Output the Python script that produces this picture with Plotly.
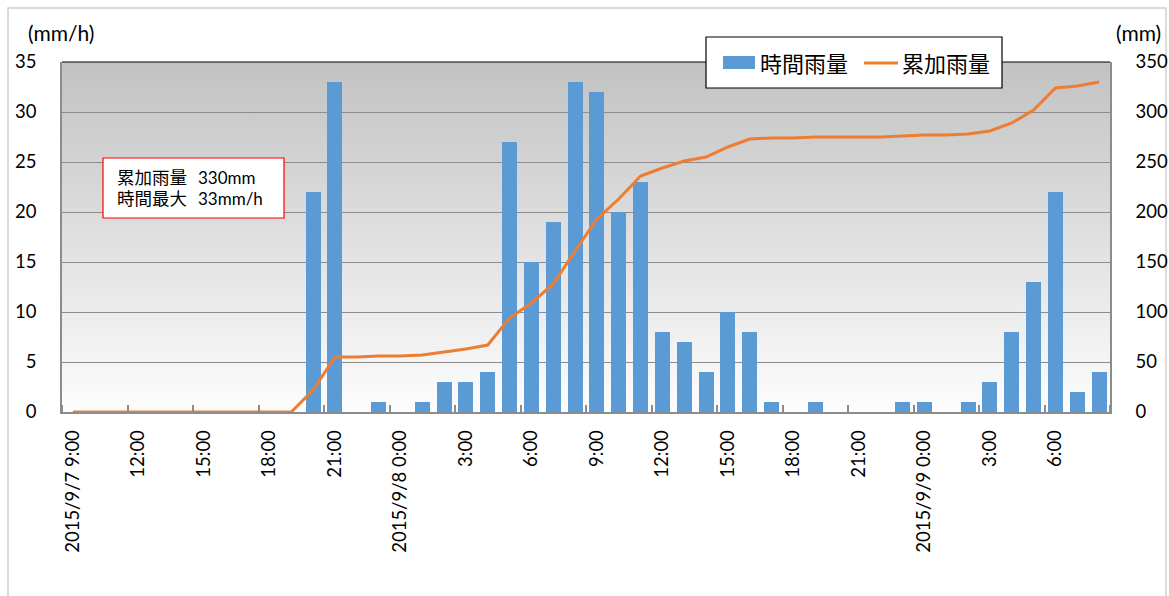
import base64

import pandas as pd
import plotly.graph_objects as go

# Hourly observations, 2015/9/7 9:00 to 2015/9/9 8:00
hours = pd.date_range("2015-09-07 09:00", periods=48, freq="h")

hourly_rain = [0, 0, 0, 0, 0, 0, 0, 0, 0, 0, 0, 22, 33, 0, 1, 0, 1, 3, 3, 4,
               27, 15, 19, 33, 32, 20, 23, 8, 7, 4, 10, 8, 1, 0, 1, 0, 0, 0, 1, 1,
               0, 1, 3, 8, 13, 22, 2, 4]

cumulative_rain = [0, 0, 0, 0, 0, 0, 0, 0, 0, 0, 0, 22, 55, 55, 56, 56, 57, 60, 63, 67,
                   94, 109, 128, 161, 193, 213, 236, 244, 251, 255, 265, 273, 274, 274, 275, 275, 275, 275, 276, 277,
                   277, 278, 281, 289, 302, 324, 326, 330]

tick_text = ["2015/9/7 9:00", "12:00", "15:00", "18:00", "21:00",
             "2015/9/8 0:00", "3:00", "6:00", "9:00", "12:00", "15:00", "18:00", "21:00",
             "2015/9/9 0:00", "3:00", "6:00"]
tick_times = hours[::3]

total_label = "330mm"
peak_label = "33mm/h"

BAR_BLUE = "#5b9bd5"
LINE_ORANGE = "#ed7d31"
GRID = "#8c8c8c"
FONT = "Lato, 'Noto Sans CJK JP', sans-serif"

W, H = 1169, 596
PL, PR, PT, PB = 62, 1110, 62, 412


def px(x):
    return (x - PL) / (PR - PL)


def py(y):
    return (PB - y) / (PB - PT)


HOUR_MS = 3600 * 1000
half = pd.Timedelta(minutes=30)

fig = go.Figure()
fig.add_trace(go.Bar(
    x=hours, y=hourly_rain, name="時間雨量",
    width=0.68 * HOUR_MS,
    marker=dict(color=BAR_BLUE, line=dict(width=0)),
    showlegend=False,
))
fig.add_trace(go.Scatter(
    x=hours, y=cumulative_rain, name="累加雨量", yaxis="y2",
    mode="lines", line=dict(color=LINE_ORANGE, width=3),
    showlegend=False,
))

# vertical grey gradient for the plotting area
svg = (
    '<svg xmlns="http://www.w3.org/2000/svg" width="1048" height="350" '
    'preserveAspectRatio="none"><defs><linearGradient id="g" x1="0" y1="0" x2="0" y2="1">'
    '<stop offset="0" stop-color="#c2c2c2"/><stop offset="1" stop-color="#fdfdfd"/>'
    '</linearGradient></defs><rect width="1048" height="350" fill="url(#g)"/></svg>'
)
bg_src = "data:image/svg+xml;base64," + base64.b64encode(svg.encode()).decode()

shapes = [
    # outer chart frame
    dict(type="rect", xref="paper", yref="paper",
         x0=px(8), x1=px(1166), y0=py(620), y1=py(8),
         line=dict(color="#d0d0d0", width=1.5), fillcolor="rgba(0,0,0,0)", layer="below"),
    # top edge of the plot area
    dict(type="line", xref="paper", yref="paper", x0=0, x1=1, y0=1, y1=1,
         line=dict(color="#000000", width=1.2)),
    # legend frame
    dict(type="rect", xref="paper", yref="paper",
         x0=px(706), x1=px(1002), y0=py(88), y1=py(37),
         line=dict(color="#000000", width=1.2), fillcolor="#ffffff"),
    dict(type="rect", xref="paper", yref="paper",
         x0=px(723), x1=px(755), y0=py(69), y1=py(56),
         line=dict(width=0), fillcolor=BAR_BLUE),
    dict(type="line", xref="paper", yref="paper",
         x0=px(864), x1=px(898), y0=py(63), y1=py(63),
         line=dict(color=LINE_ORANGE, width=3)),
    # summary box
    dict(type="rect", xref="paper", yref="paper",
         x0=px(103), x1=px(284), y0=py(218), y1=py(158),
         line=dict(color="#ff0000", width=1.2), fillcolor="#ffffff"),
]

annotations = [
    dict(text="(mm/h)", x=px(26), y=py(33), xanchor="left", yanchor="middle",
         font=dict(size=21)),
    dict(text="(mm)", x=px(1114), y=py(33), xanchor="left", yanchor="middle",
         font=dict(size=21)),
    dict(text="時間雨量", x=px(758), y=py(63), xanchor="left", yanchor="middle",
         font=dict(size=22)),
    dict(text="累加雨量", x=px(900), y=py(63), xanchor="left", yanchor="middle",
         font=dict(size=22)),
    dict(text="累加雨量", x=px(115), y=py(177), xanchor="left", yanchor="middle",
         font=dict(size=17.5)),
    dict(text=total_label, x=px(196), y=py(177), xanchor="left", yanchor="middle",
         font=dict(size=17)),
    dict(text="時間最大", x=px(115), y=py(198), xanchor="left", yanchor="middle",
         font=dict(size=17.5)),
    dict(text=peak_label, x=px(196), y=py(198), xanchor="left", yanchor="middle",
         font=dict(size=17)),
]
for a in annotations:
    a.update(xref="paper", yref="paper", showarrow=False)

fig.update_layout(
    width=W, height=H,
    margin=dict(l=PL, r=W - PR, t=PT, b=H - PB, pad=0, autoexpand=False),
    paper_bgcolor="#ffffff",
    plot_bgcolor="rgba(0,0,0,0)",
    font=dict(family=FONT, size=18, color="#000000"),
    bargap=0,
    showlegend=False,
    images=[dict(source=bg_src, xref="paper", yref="paper", x=0, y=1,
                 sizex=1, sizey=1, xanchor="left", yanchor="top",
                 sizing="stretch", layer="below")],
    shapes=shapes,
    annotations=annotations,
    xaxis=dict(
        type="date", automargin=False,
        range=[hours[0] - half, hours[-1] + half],
        tickmode="array", tickvals=tick_times, ticktext=tick_text,
        tickangle=-90, ticks="", ticklabelstandoff=9,
        tickfont=dict(size=18.5),
        showgrid=False, zeroline=False,
        showline=True, linecolor=GRID, linewidth=1.5,
        minor=dict(ticks="inside", ticklen=7, tickcolor=GRID, tickwidth=1.5,
                   tick0=hours[0] - half, dtick=3 * HOUR_MS, showgrid=False),
    ),
    yaxis=dict(
        range=[0, 35], dtick=5, tick0=0, automargin=False,
        showgrid=True, gridcolor=GRID, gridwidth=1,
        showline=True, linecolor=GRID, linewidth=1.5,
        ticks="inside", ticklen=5, tickcolor=GRID,
        ticklabelstandoff=20, zeroline=False,
        tickfont=dict(size=18.5),
    ),
    yaxis2=dict(
        range=[0, 350], dtick=50, tick0=0, overlaying="y", side="right",
        automargin=False,
        showgrid=False, zeroline=False,
        showline=True, linecolor=GRID, linewidth=1.5,
        ticks="inside", ticklen=5, tickcolor=GRID,
        ticklabelstandoff=20,
        tickfont=dict(size=18.5),
    ),
)

fig.write_html("out.html")
